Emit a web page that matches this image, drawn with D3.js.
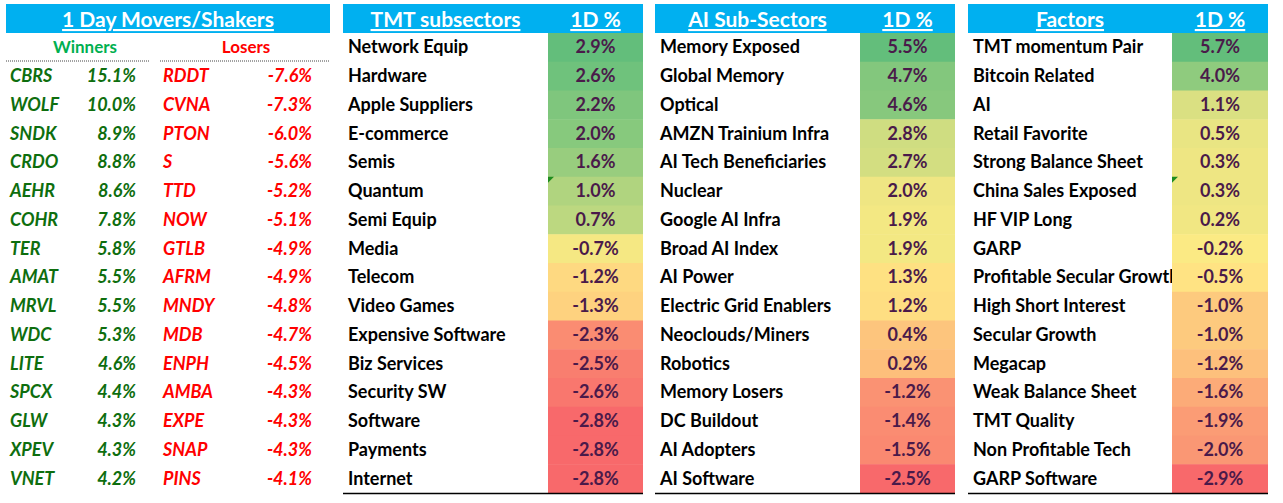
<!DOCTYPE html>
<html><head><meta charset="utf-8">
<script src="https://cdn.jsdelivr.net/npm/d3@7"></script>
<style>body{margin:0;background:#fff}text{font-family:Lato,"Open Sans",sans-serif;font-weight:bold}</style>
</head><body>
<script>
var winners = ["CBRS","WOLF","SNDK","CRDO","AEHR","COHR","TER","AMAT","MRVL","WDC","LITE","SPCX","GLW","XPEV","VNET"];
var winVals = [15.1,10.0,8.9,8.8,8.6,7.8,5.8,5.5,5.5,5.3,4.6,4.4,4.3,4.3,4.2];
var losers = ["RDDT","CVNA","PTON","S","TTD","NOW","GTLB","AFRM","MNDY","MDB","ENPH","AMBA","EXPE","SNAP","PINS"];
var loseVals = [-7.6,-7.3,-6.0,-5.6,-5.2,-5.1,-4.9,-4.9,-4.8,-4.7,-4.5,-4.3,-4.3,-4.3,-4.1];
var tmtNames = ["Network Equip","Hardware","Apple Suppliers","E-commerce","Semis","Quantum","Semi Equip","Media","Telecom","Video Games","Expensive Software","Biz Services","Security SW","Software","Payments","Internet"];
var tmtVals = [2.9,2.6,2.2,2.0,1.6,1.0,0.7,-0.7,-1.2,-1.3,-2.3,-2.5,-2.6,-2.8,-2.8,-2.8];
var aiNames = ["Memory Exposed","Global Memory","Optical","AMZN Trainium Infra","AI Tech Beneficiaries","Nuclear","Google AI Infra","Broad AI Index","AI Power","Electric Grid Enablers","Neoclouds/Miners","Robotics","Memory Losers","DC Buildout","AI Adopters","AI Software"];
var aiVals = [5.5,4.7,4.6,2.8,2.7,2.0,1.9,1.9,1.3,1.2,0.4,0.2,-1.2,-1.4,-1.5,-2.5];
var facNames = ["TMT momentum Pair","Bitcoin Related","AI","Retail Favorite","Strong Balance Sheet","China Sales Exposed","HF VIP Long","GARP","Profitable Secular Growth","High Short Interest","Secular Growth","Megacap","Weak Balance Sheet","TMT Quality","Non Profitable Tech","GARP Software"];
var facVals = [5.7,4.0,1.1,0.5,0.3,0.3,0.2,-0.2,-0.5,-1.0,-1.0,-1.2,-1.6,-1.9,-2.0,-2.9];

var svg = d3.select("body").append("svg").attr("width",1283).attr("height",503);
var y = d3.scaleBand().domain(d3.range(16)).range([33,493]);
var fmt = function(v){ return v.toFixed(1)+"%"; };

function header(x0, x1, label, cx){
  svg.append("rect").attr("x",x0).attr("y",4).attr("width",x1-x0).attr("height",29).attr("fill","#00B0F0");
  svg.append("text").attr("x",cx).attr("y",27).attr("text-anchor","middle").attr("fill","#fff")
    .attr("font-size",21).attr("text-decoration","underline").text(label);
}

// panel 1
header(6,330,"1 Day Movers/Shakers",168);
svg.append("text").attr("x",85).attr("y",y(0)+y.bandwidth()/2+6).attr("text-anchor","middle").attr("fill","#00B050").attr("font-size",17).text("Winners");
svg.append("text").attr("x",246).attr("y",y(0)+y.bandwidth()/2+6).attr("text-anchor","middle").attr("fill","#FF0000").attr("font-size",17).text("Losers");
[[6,150],[160,329]].forEach(function(s){
  svg.append("line").attr("x1",s[0]).attr("x2",s[1]).attr("y1",61).attr("y2",61).attr("stroke","#444").attr("stroke-dasharray","1,1");
});
function moverCol(names, vals, xName, xVal, col){
  var g = svg.append("g").attr("font-style","italic").attr("font-size",18).attr("fill",col);
  g.selectAll(".n").data(names).join("text").attr("x",xName).attr("y",function(d,i){return y(i+1)+y.bandwidth()/2+6;}).text(function(d){return d;});
  g.selectAll(".v").data(vals).join("text").attr("x",xVal).attr("text-anchor","end").attr("y",function(d,i){return y(i+1)+y.bandwidth()/2+6;}).text(fmt);
}
moverCol(winners, winVals, 10, 136, "#0E6E0E");
moverCol(losers, loseVals, 163, 312, "#FF0000");

function panel(x0, xv, x1, title, names, vals, flags, id){
  header(x0, x1, title, (x0+xv)/2);
  svg.append("text").attr("x",(xv+x1)/2).attr("y",27).attr("text-anchor","middle").attr("fill","#fff")
    .attr("font-size",21).attr("text-decoration","underline").text("1D %");
  var mid = d3.median(vals);
  var c = d3.scaleLinear().domain([d3.min(vals), mid, d3.max(vals)]).range(["#F8696B","#FFEB84","#63BE7B"]);
  svg.append("clipPath").attr("id",id).append("rect").attr("x",x0).attr("y",0).attr("width",xv-x0).attr("height",503);
  svg.selectAll(null).data(vals).join("rect").attr("x",xv).attr("width",x1-xv)
    .attr("y",function(d,i){return y(i);}).attr("height",y.bandwidth()+0.5).attr("fill",c);
  svg.append("g").attr("clip-path","url(#"+id+")").selectAll("text").data(names).join("text").attr("x",x0+5).attr("font-size",18).attr("fill","#000")
    .attr("y",function(d,i){return y(i)+y.bandwidth()/2+6;}).text(function(d){return d;});
  svg.selectAll(null).data(vals).join("text").attr("x",(xv+x1)/2).attr("text-anchor","middle").attr("font-size",18).attr("fill","#4A1A4A").attr("font-weight","normal")
    .attr("y",function(d,i){return y(i)+y.bandwidth()/2+6;}).text(fmt);
  flags.forEach(function(i){
    svg.append("path").attr("d","M"+xv+","+y(i)+"h6l-6,6z").attr("fill","#1E8C1E");
  });
  svg.append("line").attr("x1",x0).attr("x2",x1).attr("y1",493.5).attr("y2",493.5).attr("stroke","#000").attr("stroke-width",1.5);
}
panel(343,548,643,"TMT subsectors",tmtNames,tmtVals,[5],"c1");
panel(655,860,955,"AI Sub-Sectors",aiNames,aiVals,[],"c2");
panel(968,1172,1268,"Factors",facNames,facVals,[5],"c3");
</script>
</body></html>
